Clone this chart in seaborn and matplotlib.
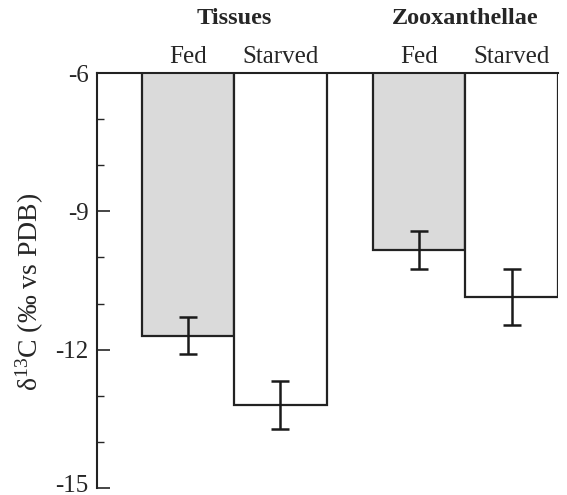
import matplotlib
matplotlib.use("Agg")
import matplotlib.pyplot as plt
import matplotlib.transforms as mtransforms
import seaborn as sns
import pandas as pd
import numpy as np

groups = ["Tissues", "Tissues", "Zooxanthellae", "Zooxanthellae"]
conditions = ["Fed", "Starved", "Fed", "Starved"]
values = [-11.70, -13.20, -9.84, -10.86]
errors = [0.40, 0.53, 0.42, 0.60]
group_labels = ["Tissues", "Zooxanthellae"]
condition_labels = ["Fed", "Starved"]
yticks_major = [-6, -9, -12, -15]

df = pd.DataFrame({"group": groups, "condition": conditions, "value": values})

sns.set_style("ticks")
plt.rcParams["font.family"] = ["Liberation Serif", "DejaVu Serif"]
plt.rcParams["mathtext.fontset"] = "custom"
plt.rcParams["mathtext.rm"] = "Liberation Serif"
plt.rcParams["mathtext.it"] = "Liberation Serif:italic"

fig = plt.figure(figsize=(5.67, 4.95), dpi=100)
ax = fig.add_axes([97/567, 1-488/495, (558-97)/567, (488-73)/495])

sns.barplot(data=df, x="group", y="value", hue="condition",
            hue_order=condition_labels, order=group_labels,
            palette={"Fed": "#dadada", "Starved": "white"},
            edgecolor="#222222", linewidth=1.6, width=0.8,
            errorbar=None, legend=False, ax=ax, saturation=1)

# error bars at each bar's centre
for p in ax.patches:
    h = p.get_height()
    if not np.isfinite(h):
        continue
    idx = int(np.argmin([abs(h - v) for v in values]))
    xc = p.get_x() + p.get_width() / 2
    ax.errorbar(xc, values[idx], yerr=errors[idx], color="#1a1a1a",
                lw=1.8, capsize=6.5, capthick=1.8, zorder=5)

ax.set_ylim(-15, -6)
ax.set_xlim(-0.593, 1.40)
ax.set_yticks(yticks_major)
ax.set_yticklabels([str(t) for t in yticks_major], fontsize=18)
ax.set_yticks(np.arange(-15, -5, 1), minor=True)
ax.tick_params(axis="y", which="major", direction="in", length=9, width=1.2, pad=6)
ax.tick_params(axis="y", which="minor", direction="in", length=5, width=1.0)
ax.set_xticks([])
ax.set_xlabel("")
ax.set_ylabel("δ$^{13}$C (‰ vs PDB)", fontsize=20)
ax.yaxis.set_label_coords(-0.11, 0.472)

# lift the bottom tick label so it stays inside the figure
fig.canvas.draw()
lbls = ax.get_yticklabels()
for lb in lbls:
    if lb.get_text() == "-15":
        lb.set_transform(lb.get_transform() +
                         mtransforms.ScaledTranslation(0, 0.05, fig.dpi_scale_trans))

ax.spines["right"].set_visible(False)
ax.spines["bottom"].set_visible(False)
ax.spines["left"].set_linewidth(1.5)
ax.spines["top"].set_linewidth(1.5)
for s in ["left", "top"]:
    ax.spines[s].set_color("#222222")

# Labels above top from bar positions
xs = []
for p in ax.patches:
    h = p.get_height()
    if np.isfinite(h):
        xs.append(p.get_x() + p.get_width() / 2)
xs = sorted(xs)
for i, xc in enumerate(xs):
    ax.text(xc, 1.012, conditions[i], transform=ax.get_xaxis_transform(),
            ha="center", va="bottom", fontsize=18)
for g, gx in zip(group_labels, [0, 1]):
    ax.text(gx, 1.105, g, transform=ax.get_xaxis_transform(),
            ha="center", va="bottom", fontsize=17.5, fontweight="bold")

fig.savefig("out.png", dpi=100)
